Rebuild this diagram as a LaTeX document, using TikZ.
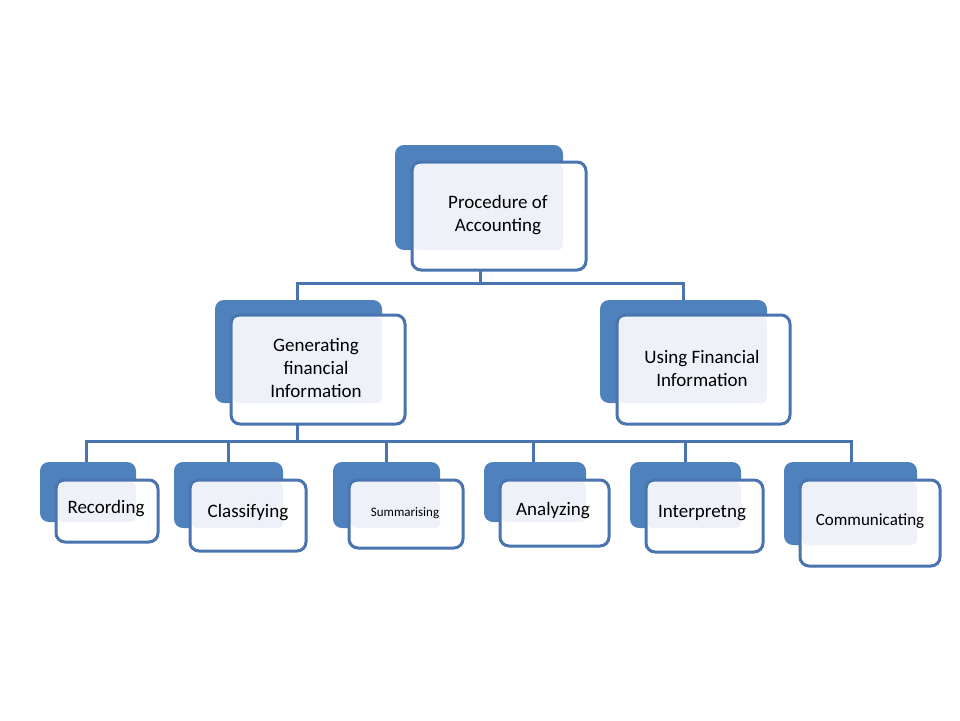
\documentclass[tikz,border=0pt]{standalone}
\usepackage{fontspec}
\setmainfont{Carlito}
\definecolor{dblue}{HTML}{4F81BD}
\definecolor{lineblue}{HTML}{4A74AF}
\definecolor{lfill}{HTML}{EEF2F8}
\tikzset{
  backbox/.style={fill=dblue,rounded corners=9pt,inner sep=0pt},
  frontbox/.style={draw=lineblue,line width=3pt,fill=white,rounded corners=9pt,inner sep=0pt},
  lightbox/.style={fill=lfill,rounded corners=5pt,inner sep=0pt},
  conn/.style={draw=lineblue,line width=3pt},
  lbl/.style={align=center,font=\fontsize{19}{23}\selectfont,text=black}
}
% #1 name, back x1 y1 x2 y2, front x1 y1 x2 y2, text pos, text
\newcommand\mybox[9]{%
  \path[backbox] (#2,#3) rectangle (#4,#5);
  \node[frontbox,minimum width={#8-#6},minimum height={#9-#7}] (#1) at ({(#6+#8)/2},{(#7+#9)/2}) {};
  \path[lightbox] (#6+2,#7+2) rectangle (#4,#5);
}
\begin{document}
\begin{tikzpicture}[x=1pt,y=-1pt]
\useasboundingbox[fill=white] (0,0) rectangle (960,720);
\mybox{top}{395}{145}{563}{250}{412}{162}{586}{270}
\node[lbl] (ttop) at (498,215) {Procedure of\\Accounting};
\mybox{gen}{215}{300}{382}{403}{231}{315}{405}{424}
\node[lbl] (tgen) at (316,368) {Generating\\financial\\Information};
\mybox{use}{600}{300}{767}{403}{617}{315}{790}{424}
\node[lbl] (tuse) at (702,368) {Using Financial\\Information};
\mybox{rec}{40}{462}{136}{522}{56}{480}{158}{542}
\node[lbl] (trec) at (106,509) {Recording};
\mybox{cla}{174}{462}{283}{528}{190}{480}{306}{551}
\node[lbl] (tcla) at (248,513) {Classifying};
\mybox{sum}{333}{462}{440}{528}{349}{480}{463}{548}
\node[lbl,font=\fontsize{13}{15}\selectfont] (tsum) at (405,513) {Summarising};
\mybox{ana}{484}{462}{586}{522}{500}{480}{609}{546}
\node[lbl] (tana) at (553,511) {Analyzing};
\mybox{int}{630}{462}{741}{528}{646}{480}{763}{552}
\node[lbl] (tint) at (702,513) {Interpretng};
\mybox{com}{784}{462}{917}{545}{800}{480}{940}{566}
\node[lbl,font=\fontsize{17}{20}\selectfont] (tcom) at (870,521) {Communicating};
% connectors
\coordinate (j1) at (480,283);
\draw[conn] (480,270) -- (j1);
\draw[conn] (297,283) -- (683,283);
\draw[conn] (297,281.5) -- (297,300);
\draw[conn] (683,281.5) -- (683,300);
\coordinate (j2) at (297,441);
\draw[conn] (297,424) -- (j2);
\draw[conn] (86,441) -- (851,441);
\foreach \x in {86,228,386,533,685,851}{\draw[conn] (\x,439.5) -- (\x,462);}
\end{tikzpicture}
\end{document}
